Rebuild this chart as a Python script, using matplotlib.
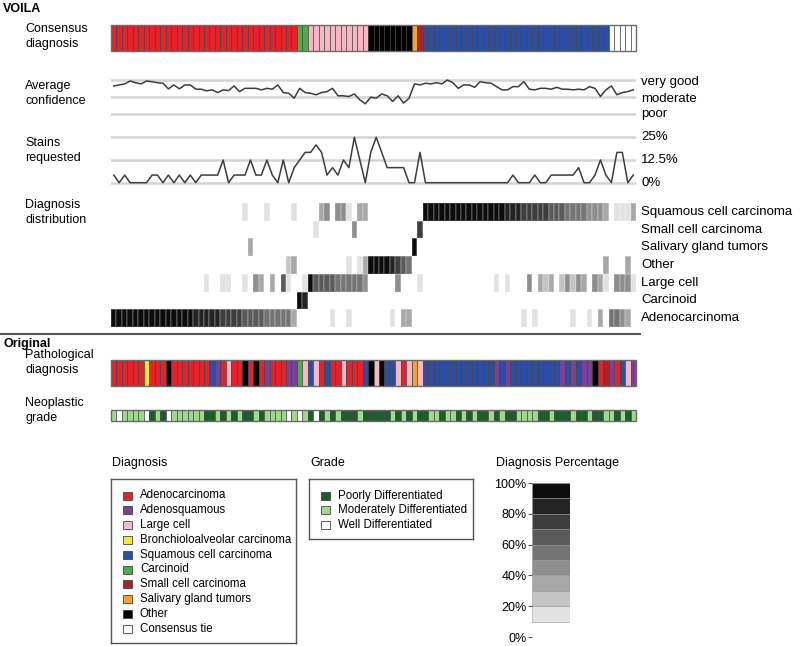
import matplotlib
matplotlib.use("Agg")
import matplotlib.pyplot as plt
import numpy as np
from matplotlib.colors import ListedColormap, BoundaryNorm
from matplotlib.patches import Rectangle
from matplotlib.lines import Line2D

plt.rcParams['font.family'] = ['Liberation Sans', 'DejaVu Sans']

# ---------- data ----------
# diagnosis codes: A adeno, Q adenosquamous, L large cell, B bronchioloalveolar,
# S squamous, C carcinoid, M small cell, G salivary gland, O other, T consensus tie
diag_codes = ["A", "Q", "L", "B", "S", "C", "M", "G", "O", "T"]
diag_names = ["Adenocarcinoma", "Adenosquamous", "Large cell", "Bronchioloalveolar carcinoma",
              "Squamous cell carcinoma", "Carcinoid", "Small cell carcinoma",
              "Salivary gland tumors", "Other", "Consensus tie"]
diag_colors = ["#e3222b", "#7b3f9a", "#f7b8c6", "#f5ec2a", "#2b4ea2",
               "#4cae48", "#a4262a", "#f2a22e", "#000000", "#ffffff"]

consensus = ("AAAAAAAAAA AAAAAAAAAA AAAAAAAAAA AAAACCLLLL LLLLLLLOOO "
             "OOOOOGMSSS SSSSSSSSSS SSSSSSSSSS SSSSSSSSSS STTTTT")
pathological = ("AAAAAABAAA OAAAAAAASQ ALAAOAOAQA AAQQCLSLAS AALAAASOLO "
                "SSLALGLSSS SSSSSSSSSS QSQSSSSSSS SSQSQSQQOA MQASLQ")

# grade codes: D poorly, M moderately, W well differentiated
grade_codes = ["D", "M", "W"]
grade_names = ["Poorly Differentiated", "Moderately Differentiated", "Well Differentiated"]
grade_colors = ["#1b5e2b", "#9fd98b", "#ffffff"]
grade = ("MWMMMMWDMD WMMMMMMDDM DMDMDDMDMM MMWMWMDWDM DMDDDMDDDD "
         "DMDMDMDDMM DMMDMDMDDM DMDDMMMMDD MDDDMDDMDD MMDMDM")

# average confidence (1 = poor, 2 = moderate, 3 = very good)
confidence = [2.65, 2.71, 2.77, 2.94, 2.84, 2.77, 2.94, 2.90, 2.84, 2.81,
              2.48, 2.71, 2.48, 2.71, 2.71, 2.46, 2.46, 2.36, 2.42, 2.26,
              2.42, 2.38, 2.65, 2.32, 2.51, 2.51, 2.51, 2.42, 2.51, 2.46,
              2.71, 2.26, 2.22, 1.93, 2.51, 2.26, 2.22, 2.13, 2.26, 2.32,
              2.51, 2.07, 2.07, 2.03, 2.18, 1.83, 1.60, 1.99, 1.93, 2.18,
              2.07, 1.74, 2.07, 1.64, 1.93, 2.77, 2.71, 2.81, 2.77, 2.84,
              2.77, 3.00, 2.84, 2.51, 2.71, 2.71, 2.57, 2.90, 2.84, 2.81,
              2.61, 2.42, 2.42, 2.61, 2.61, 2.90, 2.46, 2.42, 2.51, 2.51,
              2.46, 2.57, 2.46, 2.46, 2.42, 2.46, 2.42, 2.61, 2.51, 2.03,
              2.42, 2.65, 2.13, 2.26, 2.32, 2.42]

# stains requested (%)
stains = [4.2, 0, 4.2, 0, 0, 0, 0, 4.2, 4.2, 0,
          4.2, 0, 4.2, 0, 4.2, 0, 4.2, 4.2, 4.2, 4.2,
          12.5, 0, 4.2, 4.2, 4.2, 12.5, 4.2, 4.2, 12.5, 4.2,
          0, 12.5, 0, 8.3, 12.5, 16.7, 16.7, 20.8, 16.7, 4.2,
          8.3, 4.2, 12.5, 8.3, 25, 12.5, 0, 16.7, 25, 16.7,
          8.3, 8.3, 8.3, 8.3, 0, 0, 16.7, 0, 0, 0,
          0, 0, 0, 0, 0, 0, 0, 0, 0, 0,
          0, 0, 0, 4.2, 0, 0, 0, 4.2, 0, 0,
          4.2, 4.2, 4.2, 4.2, 4.2, 8.3, 0, 0, 4.2, 12.5,
          4.2, 0, 16.7, 16.7, 0, 4.2]

# diagnosis distribution, level 0 (<10%) .. 9 (90-100%), one string per row
dist_rows = ["Adenocarcinoma", "Carcinoid", "Large cell", "Other",
             "Salivary gland tumors", "Small cell carcinoma", "Squamous cell carcinoma"]
dist_adeno = ("9999999999 9999988888 7777666655 5553000000 1001000000 "
              "0103300000 0000000000 0000010100 0000100103 055430")
dist_carcinoid = ("0000000000 0000000000 0000000000 0000980000 0000000000 "
                  "0000000000 0000000000 0000000000 0000000000 000000")
dist_large = ("0000000000 0000000100 1100104303 0610019666 6555554000 "
              "0040001000 0000000000 1010004032 3024243043 104441")
dist_other = ("0000000000 0000000000 0000000000 0023000000 0001013999 "
              "9876500000 0000000000 0000000000 0000000000 300030")
dist_salivary = ("0000000000 0000000000 0000030000 0000000000 0000000000 "
                 "0000090000 0000000000 0000000000 0000000000 000000")
dist_small = ("0000000000 0000000000 0000000000 0000000100 0000400000 "
              "0000007000 0000000000 0000000000 0000000000 000000")
dist_squamous = ("0000000000 0000000000 0000100010 0001000034 0441033000 "
                 "0000000999 9999999999 9988877777 6665555444 301113")

pct_greys = ["#e2e2e2", "#c4c4c4", "#a8a8a8", "#8e8e8e", "#747474",
             "#5a5a5a", "#3e3e3e", "#242424", "#0c0c0c"]
pct_ticks = [0, 20, 40, 60, 80, 100]

# ---------- helpers ----------
W, H = 800, 646
fig = plt.figure(figsize=(8, 6.46), dpi=100)


def add_ax(x0, y0, x1, y1):
    return fig.add_axes([x0 / W, 1 - y1 / H, (x1 - x0) / W, (y1 - y0) / H])


def ftext(x, y, s, **kw):
    fig.text(x / W, 1 - y / H, s, **kw)


def cat_bar(y0, y1, seq, codes, colors):
    seq = seq.replace(" ", "")
    cmap = dict(zip(codes, colors))
    ax = add_ax(111, y0, 636, y1)
    ax.bar(np.arange(len(seq)), 1, width=1, align='center',
           color=[cmap[c] for c in seq], edgecolor='#404040', linewidth=0.45)
    ax.set_xlim(-0.5, len(seq) - 0.5)
    ax.set_ylim(0, 1)
    ax.axis('off')
    ax.add_patch(Rectangle((0, 0), 1, 1, transform=ax.transAxes, fill=False,
                           edgecolor='#6a6a6a', linewidth=1, clip_on=False))
    return ax


N = len(confidence)
lab_kw = dict(fontsize=9, va='top', linespacing=1.3)
row_kw = dict(fontsize=9.5, va='center')

# ---------- VOILA section ----------
ftext(3, 3, "VOILA", fontsize=9, fontweight='bold', va='top')

ftext(25, 23, "Consensus\ndiagnosis", **lab_kw)
cat_bar(25, 51, consensus, diag_codes, diag_colors)

# average confidence
ftext(25, 80, "Average\nconfidence", **lab_kw)
ax = add_ax(111, 74, 636, 120)
ax.set_ylim(1 - 6 / 17, 3 + 6 / 17)
ax.set_xlim(-0.5, N - 0.5)
for v in [1, 2, 3]:
    ax.axhline(v, color='#d4d4d4', lw=1.8, zorder=1)
ax.plot(np.arange(N), confidence, color='#3c3c3c', lw=1.1, zorder=2)
ax.axis('off')
for lbl, y in [("very good", 82), ("moderate", 99), ("poor", 114)]:
    ftext(641, y, lbl, **row_kw)

# stains requested
ftext(25, 137, "Stains\nrequested", **lab_kw)
ax = add_ax(111, 131, 636, 189)
ax.set_ylim(-6.3 / 1.816, 25 + 6.3 / 1.816)
ax.set_xlim(-0.5, N - 0.5)
for v in [0, 12.5, 25]:
    ax.axhline(v, color='#d4d4d4', lw=1.8, zorder=1)
ax.plot(np.arange(N), stains, color='#3c3c3c', lw=1.1, zorder=2)
ax.axis('off')
for lbl, y in [("25%", 137), ("12.5%", 160), ("0%", 183)]:
    ftext(641, y, lbl, **row_kw)

# diagnosis distribution
ftext(25, 199, "Diagnosis\ndistribution", **lab_kw)
dist = [dist_adeno, dist_carcinoid, dist_large, dist_other,
        dist_salivary, dist_small, dist_squamous]
Z = np.array([[int(ch) for ch in r.replace(" ", "")] for r in dist])
ax = add_ax(111, 203, 636, 327)
hm_cmap = ListedColormap(["#ffffff"] + pct_greys)
hm_norm = BoundaryNorm(np.arange(-0.5, 10.5, 1), hm_cmap.N)
ax.pcolormesh(np.arange(N + 1) - 0.5, np.arange(len(dist) + 1), Z,
              cmap=hm_cmap, norm=hm_norm, edgecolors=(1, 1, 1, 0.15), linewidth=0.3)
ax.set_xlim(-0.5, N - 0.5)
ax.set_ylim(0, len(dist))
ax.axis('off')
for i, name in enumerate(dist_rows):
    yc = 327 - (i + 0.5) * (124 / len(dist))
    ftext(641, yc, name, **row_kw)

# separator
fig.add_artist(Line2D([0, 640 / W], [1 - 334 / H, 1 - 334 / H],
                      color='#555555', lw=1.5, transform=fig.transFigure))

# ---------- Original section ----------
ftext(3, 338, "Original", fontsize=9, fontweight='bold', va='top')
ftext(25, 349, "Pathological\ndiagnosis", **lab_kw)
cat_bar(360, 386, pathological, diag_codes, diag_colors)

ftext(25, 397, "Neoplastic\ngrade", **lab_kw)
cat_bar(410, 421, grade, grade_codes, grade_colors)

# ---------- legends ----------
leg_font = 8.3


def legend_box(x0, y0, x1, y1, title, names, colors):
    ftext(x0 + 1, y0 - 16, title, fontsize=9, va='center')
    ax = add_ax(x0, y0, x1, y1)
    ax.set_xlim(0, x1 - x0)
    ax.set_ylim(y1 - y0, 0)
    ax.set_xticks([])
    ax.set_yticks([])
    for s in ax.spines.values():
        s.set_edgecolor('#555555')
        s.set_linewidth(1)
    for i, (nm, col) in enumerate(zip(names, colors)):
        yc = 16.5 + i * 14.8
        ax.add_patch(Rectangle((12, yc - 4), 9, 8, facecolor=col,
                               edgecolor='#444444', linewidth=0.6))
        ax.text(29, yc, nm, fontsize=leg_font, va='center')


legend_box(111, 479, 296, 643, "Diagnosis", diag_names, diag_colors)
legend_box(309, 479, 473, 539, "Grade", grade_names, grade_colors)

# diagnosis percentage scale
ftext(496, 463, "Diagnosis Percentage", fontsize=9, va='center')
ax = add_ax(532, 483, 570, 637)
ax.bar([0.5] * len(pct_greys), 10, width=1, bottom=np.arange(10, 100, 10),
       color=pct_greys, edgecolor='#9a9a9a', linewidth=0.4)
ax.set_xlim(0, 1)
ax.set_ylim(0, 100)
for s in ax.spines.values():
    s.set_visible(False)
ax.set_xticks([])
ax.set_yticks(pct_ticks)
ax.set_yticklabels([f"{t}%" for t in pct_ticks], fontsize=9)
ax.tick_params(axis='y', length=3, width=0.8, color='#555555', pad=1)

fig.savefig("out.png", dpi=100)
